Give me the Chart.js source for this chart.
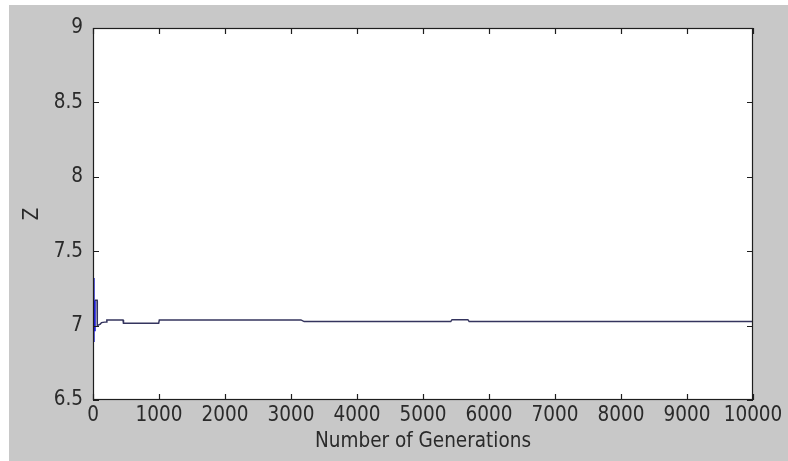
<!DOCTYPE html>
<html>
<head>
<meta charset="utf-8">
<script src="https://cdn.jsdelivr.net/npm/chart.js@4/dist/chart.umd.min.js"></script>
<style>
  html, body { margin: 0; padding: 0; background: #ffffff; }
  #wrap { width: 788px; height: 461px; }
</style>
</head>
<body>
<div id="wrap"><canvas id="myChart" width="788" height="461"></canvas></div>
<script>
// Valeurs : Z en fonction du nombre de générations
var generations = [0, 1, 2, 3, 4, 5, 6, 7, 8, 9, 10, 12, 14, 16, 18, 20, 23, 26, 30, 62, 65, 110, 130, 200, 210, 455, 462, 995, 1005, 3150, 3200, 5420, 5440, 5680, 5700, 10000];
var zValues = [7.32, 6.89, 7.29, 6.91, 7.27, 6.92, 7.25, 6.93, 7.22, 6.95, 7.2, 6.96, 7.18, 6.97, 7.17, 6.98, 7.17, 6.99, 7.17, 7.17, 7.0, 7.01, 7.02, 7.025, 7.037, 7.037, 7.015, 7.015, 7.038, 7.038, 7.027, 7.027, 7.04, 7.04, 7.027, 7.027];

// Graduations des axes
var xTicks = [0, 1000, 2000, 3000, 4000, 5000, 6000, 7000, 8000, 9000, 10000];
var yTicks = [6.5, 7, 7.5, 8, 8.5, 9];

var points = generations.map(function (g, i) { return { x: g, y: zValues[i] }; });

var police = '"DejaVu Sans Condensed", "Liberation Sans", sans-serif';

// Fond gris façon MATLAB + cadre et graduations vers l'intérieur
var matlabFrame = {
    id: 'matlabFrame',
    beforeDraw: function (chart) {
        var ctx = chart.ctx;
        var a = chart.chartArea;
        ctx.save();
        ctx.fillStyle = '#ffffff';
        ctx.fillRect(0, 0, chart.width, chart.height);
        ctx.fillStyle = '#c8c8c8';
        ctx.fillRect(9, 5, chart.width - 9, chart.height - 5);
        ctx.fillStyle = '#ffffff';
        ctx.fillRect(a.left, a.top, a.right - a.left, a.bottom - a.top);
        ctx.restore();
    },
    afterDraw: function (chart) {
        var ctx = chart.ctx;
        var a = chart.chartArea;
        var xs = chart.scales.x;
        var ys = chart.scales.y;
        var len = 6;
        ctx.save();
        ctx.strokeStyle = '#1e1e1e';
        ctx.lineWidth = 1.2;
        ctx.strokeRect(a.left + 0.5, a.top + 0.5, a.right - a.left - 1, a.bottom - a.top - 1);
        ctx.beginPath();
        xTicks.forEach(function (v) {
            var px = Math.round(xs.getPixelForValue(v)) + 0.5;
            ctx.moveTo(px, a.bottom);
            ctx.lineTo(px, a.bottom - len);
            ctx.moveTo(px, a.top);
            ctx.lineTo(px, a.top + len);
        });
        yTicks.forEach(function (v) {
            var py = Math.round(ys.getPixelForValue(v)) + 0.5;
            ctx.moveTo(a.left, py);
            ctx.lineTo(a.left + len, py);
            ctx.moveTo(a.right, py);
            ctx.lineTo(a.right - len, py);
        });
        ctx.stroke();
        ctx.restore();
    }
};

var ctx = document.getElementById('myChart').getContext('2d');

var myChart = new Chart(ctx, {
    type: 'line',
    data: {
        datasets: [{
            label: 'Z',
            data: points,
            borderColor: '#34345e',
            borderWidth: 1.5,
            pointRadius: 0,
            tension: 0,
            fill: false,
            segment: {
                // la partie oscillante du début apparaît en bleu vif
                borderColor: function (c) { return c.p0.parsed.x < 30 ? '#1f1fd6' : '#34345e'; },
                borderWidth: function (c) { return c.p0.parsed.x < 30 ? 2.5 : 1.5; }
            }
        }]
    },
    plugins: [matlabFrame],
    options: {
        responsive: false,
        animation: false,
        layout: { padding: { top: 28, right: 35, bottom: 0, left: 0 } },
        plugins: {
            legend: { display: false },
            tooltip: { enabled: false }
        },
        scales: {
            x: {
                type: 'linear',
                min: 0,
                max: 10000,
                afterBuildTicks: function (scale) {
                    scale.ticks = xTicks.map(function (v) { return { value: v }; });
                },
                afterFit: function (scale) { scale.height = 61; },
                grid: { display: false, drawTicks: false },
                border: { display: false },
                ticks: {
                    color: '#2a2a2a',
                    padding: 3,
                    maxRotation: 0,
                    autoSkip: false,
                    font: { family: police, size: 20.5 },
                    callback: function (v) { return String(v); }
                },
                title: {
                    display: true,
                    text: 'Number of Generations',
                    color: '#2a2a2a',
                    font: { family: police, size: 20.5 },
                    padding: { top: 0, bottom: 7 }
                }
            },
            y: {
                min: 6.5,
                max: 9,
                afterBuildTicks: function (scale) {
                    scale.ticks = yTicks.map(function (v) { return { value: v }; });
                },
                afterFit: function (scale) { scale.width = 93; },
                grid: { display: false, drawTicks: false },
                border: { display: false },
                ticks: {
                    color: '#2a2a2a',
                    padding: 10,
                    autoSkip: false,
                    font: { family: police, size: 20.5 },
                    callback: function (v) { return String(v); }
                },
                title: {
                    display: true,
                    text: 'Z',
                    color: '#2a2a2a',
                    font: { family: police, size: 20.5 },
                    padding: { top: 20, bottom: 0 }
                }
            }
        }
    }
});
</script>
</body>
</html>
